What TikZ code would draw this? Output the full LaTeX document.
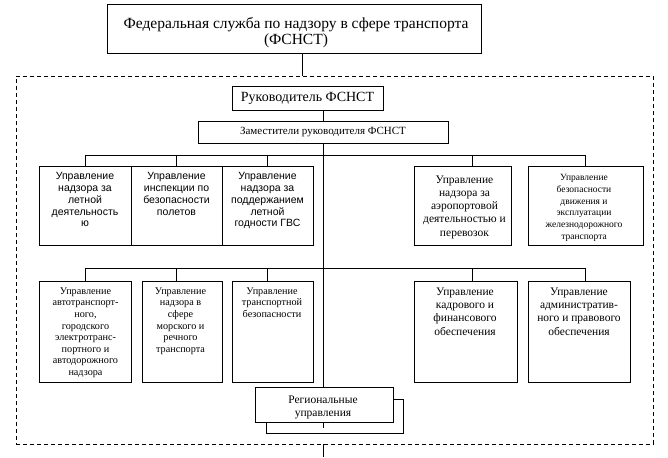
\documentclass[tikz,border=0pt]{standalone}
\usepackage{fontspec}
\setmainfont{Liberation Serif}
\newfontfamily\arialf{Liberation Sans}
\newcommand\fsz[2]{\fontsize{#1}{#2}\selectfont}
\tikzset{
  bx/.style={draw, line width=0.8pt, inner sep=0pt, fill=white},
  lbl/.style={inner sep=0pt, anchor=north, align=center},
  ln/.style={line width=0.8pt},
}
\begin{document}
\begin{tikzpicture}[x=1pt,y=-1pt]
\useasboundingbox (0,0) rectangle (668,457);
% frame
\node[draw, dash pattern=on 4pt off 3pt, line width=0.8pt, minimum width=637pt, minimum height=368pt, inner sep=0pt] (frame) at (334.5,260) {};
% boxes
\node[bx, minimum width=374pt, minimum height=49pt] (top) at (294,28.5) {};
\node[bx, minimum width=151pt, minimum height=24pt, font=\fsz{14}{16}] (ruk) at (307.5,98) {Руководитель ФСНСТ};
\node[bx, minimum width=250pt, minimum height=22pt, font=\fsz{11}{13}] (zam) at (323,132) {Заместители руководителя ФСНСТ};
\node[bx, minimum width=92pt, minimum height=79pt] (r1a) at (85,205.5) {};
\node[bx, minimum width=91pt, minimum height=79pt] (r1b) at (176.5,205.5) {};
\node[bx, minimum width=91pt, minimum height=79pt] (r1c) at (267.5,205.5) {};
\node[bx, minimum width=97pt, minimum height=79pt] (r1d) at (462.5,205.5) {};
\node[bx, minimum width=115pt, minimum height=79pt] (r1e) at (585.5,205.5) {};
\node[bx, minimum width=92pt, minimum height=101pt] (r2a) at (85,331.5) {};
\node[bx, minimum width=80pt, minimum height=101pt] (r2b) at (182,331.5) {};
\node[bx, minimum width=81pt, minimum height=101pt] (r2c) at (272.5,331.5) {};
\node[bx, minimum width=103pt, minimum height=101pt] (r2d) at (465.5,331.5) {};
\node[bx, minimum width=102pt, minimum height=101pt] (r2e) at (579,331.5) {};
% connectors
\coordinate (t1) at (302,76);
\coordinate (bus1) at (323,155);
\coordinate (bus2) at (323,268);
\coordinate (endc) at (323,457);
\node[bx, minimum width=137pt, minimum height=34pt] (regb) at (334.5,416) {};
\node[bx, minimum width=138pt, minimum height=35pt] (regf) at (324,404.5) {};
\draw[ln] (top.south -| t1) -- (t1);
\draw[ln] (ruk.south -| zam.north) -- (zam.north);
\draw[ln] (zam.south) -- (zam.south |- regf.north);
\draw[ln] (regf.south -| zam.south) -- ++(0,5.5);
\draw[ln] (frame.south -| endc) -- (endc);
\draw[ln] (r1a.north) -- (r1a.north |- bus1) -- (r1e.north |- bus1) -- (r1e.north);
\draw[ln] (r1b.north) -- (r1b.north |- bus1);
\draw[ln] (r1c.north) -- (r1c.north |- bus1);
\draw[ln] ([xshift=9.5pt]r1d.north) -- ([xshift=9.5pt]r1d.north |- bus1);
\draw[ln] (r2a.north) -- (r2a.north |- bus2) -- ([xshift=6pt]r2e.north |- bus2) -- ([xshift=6pt]r2e.north);
\draw[ln] ([xshift=-6pt]r2b.north) -- ([xshift=-6pt]r2b.north |- bus2);
\draw[ln] ([xshift=-5.5pt]r2c.north) -- ([xshift=-5.5pt]r2c.north |- bus2);
\draw[ln] ([xshift=6.5pt]r2d.north) -- ([xshift=6.5pt]r2d.north |- bus2);
% texts
\node[lbl, font=\fsz{15.5}{16}] (top-t) at (296,17.5) {Федеральная служба по надзору в сфере транспорта\\(ФСНСТ)};
\node[lbl, font=\arialf\fsz{10.5}{11.7}] (r1a-t) at (85,172.5) {Управление\\надзора за\\летной\\деятельность\\ю};
\node[lbl, font=\arialf\fsz{10.5}{11.7}] (r1b-t) at (176.5,172.5) {Управление\\инспекции по\\безопасности\\полетов};
\node[lbl, font=\arialf\fsz{10.5}{11.7}] (r1c-t) at (267.5,172.5) {Управление\\надзора за\\поддержанием\\летной\\годности ГВС};
\node[lbl, font=\fsz{11.5}{13.2}] (r1d-t) at (464.5,175.5) {Управление\\надзора за\\аэропортовой\\деятельностью и\\перевозок};
\node[lbl, font=\fsz{9.5}{11.8}] (r1e-t) at (584,174) {Управление\\безопасности\\движения и\\эксплуатации\\железнодорожного\\транспорта};
\node[lbl, font=\fsz{10.2}{11.6}] (r2a-t) at (85.5,287.5) {Управление\\автотранспорт-\\ного,\\городского\\электротранс-\\портного и\\автодорожного\\надзора};
\node[lbl, font=\fsz{10.2}{11.6}] (r2b-t) at (180.5,287.5) {Управление\\надзора в\\сфере\\морского и\\речного\\транспорта};
\node[lbl, font=\fsz{10.2}{11.6}] (r2c-t) at (272,287.5) {Управление\\транспортной\\безопасности};
\node[lbl, font=\fsz{11.5}{13.3}] (r2d-t) at (465,287.5) {Управление\\кадрового и\\финансового\\обеспечения};
\node[lbl, font=\fsz{11.5}{13.3}] (r2e-t) at (579,287.5) {Управление\\административ-\\ного и правового\\обеспечения};
\node[lbl, font=\fsz{11.5}{13}] (reg-t) at (323,395.5) {Региональные\\управления};
\end{tikzpicture}
\end{document}
